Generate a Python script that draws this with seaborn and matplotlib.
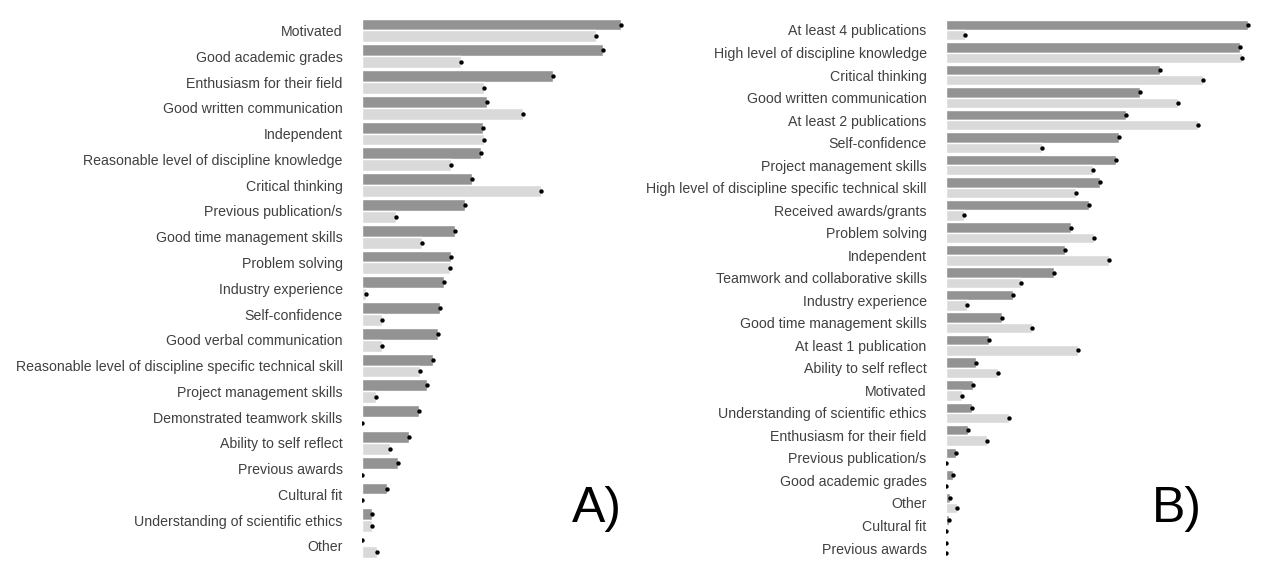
import matplotlib
matplotlib.use("Agg")
import matplotlib.pyplot as plt
import pandas as pd
import seaborn as sns

# panel A data
a_labels = ["Motivated", "Good academic grades", "Enthusiasm for their field",
            "Good written communication", "Independent",
            "Reasonable level of discipline knowledge", "Critical thinking",
            "Previous publication/s", "Good time management skills", "Problem solving",
            "Industry experience", "Self-confidence", "Good verbal communication",
            "Reasonable level of discipline specific technical skill",
            "Project management skills", "Demonstrated teamwork skills",
            "Ability to self reflect", "Previous awards", "Cultural fit",
            "Understanding of scientific ethics", "Other"]
a_dark = [259, 241, 191, 125, 121, 119, 110, 103, 93, 89, 82, 78, 76, 71, 65, 57, 47, 36, 25, 10, 0]
a_light = [234, 99, 122, 161, 122, 89, 179, 34, 60, 88, 4, 20, 20, 58, 14, 0, 28, 0, 0, 10, 15]

# panel B data
b_labels = ["At least 4 publications", "High level of discipline knowledge",
            "Critical thinking", "Good written communication", "At least 2 publications",
            "Self-confidence", "Project management skills",
            "High level of discipline specific technical skill", "Received awards/grants",
            "Problem solving", "Independent", "Teamwork and collaborative skills",
            "Industry experience", "Good time management skills", "At least 1 publication",
            "Ability to self reflect", "Motivated", "Understanding of scientific ethics",
            "Enthusiasm for their field", "Previous publication/s", "Good academic grades",
            "Other", "Cultural fit", "Previous awards"]
b_dark = [302, 294, 214, 194, 180, 173, 170, 154, 143, 125, 119, 108, 67, 56, 43, 30, 27, 26, 22, 10, 7, 4, 3, 0]
b_light = [19, 296, 257, 232, 252, 96, 147, 130, 18, 148, 163, 75, 21, 86, 132, 52, 16, 63, 41, 0, 0, 11, 0, 0]

groups = ["group 1", "group 2"]
colors = ["#939393", "#d9d9d9"]


def make_df(labels, dark, light):
    df = pd.DataFrame({"item": labels * 2,
                       "group": [groups[0]] * len(labels) + [groups[1]] * len(labels),
                       "score": dark + light})
    return df


def panel(ax, df, xmax, n):
    sns.barplot(data=df, y="item", x="score", hue="group", hue_order=groups,
                palette=colors, orient="h", width=0.92, saturation=1,
                legend=False, ax=ax)
    # dots at the end of each bar
    for bar in ax.patches:
        ax.scatter(bar.get_width(), bar.get_y() + bar.get_height() / 2,
                   s=10, color="black", zorder=5, linewidths=0)
    ax.set_xlim(0, xmax)
    ax.set_ylim(n - 0.5, -0.5)
    ax.set_xlabel("")
    ax.set_ylabel("")
    ax.set_xticks([])
    ax.tick_params(axis="y", length=0, pad=14, labelsize=10.2, labelcolor="#404040")
    for s in ax.spines.values():
        s.set_visible(False)


sns.set_style("white")
plt.rcParams["font.family"] = ["Liberation Sans", "DejaVu Sans"]

fig = plt.figure(figsize=(12.68, 5.69), dpi=100)
ax1 = fig.add_axes([362 / 1268, 0.0178, 300 / 1268, 0.9513])
ax2 = fig.add_axes([946 / 1268, 0.0171, 310 / 1268, 0.950])

panel(ax1, make_df(a_labels, a_dark, a_light), 300, len(a_labels))
panel(ax2, make_df(b_labels, b_dark, b_light), 310, len(b_labels))

fig.text(572 / 1268, (569 - 522) / 569, "A)", fontsize=36, va="baseline", color="black")
fig.text(1152 / 1268, (569 - 522) / 569, "B)", fontsize=36, va="baseline", color="black")

fig.savefig("out.png", dpi=100)
